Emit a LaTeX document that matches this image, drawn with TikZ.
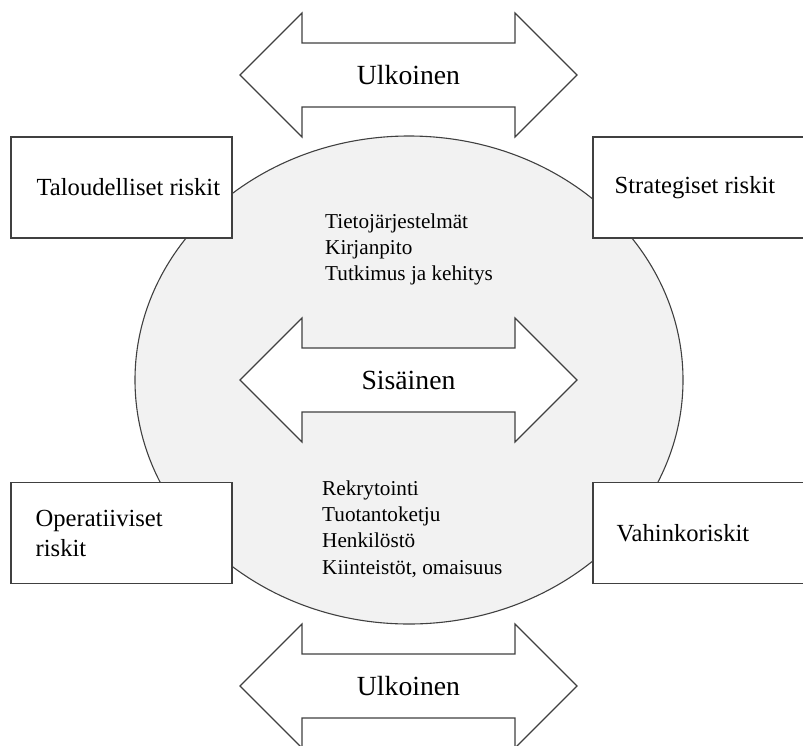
\documentclass[tikz,border=0pt]{standalone}
\usepackage{fontspec}
\setmainfont{Liberation Serif}
\newfontfamily\tms{Liberation Serif}
\usetikzlibrary{calc,shapes.geometric}
\definecolor{edge}{HTML}{404040}
\definecolor{core}{HTML}{F2F2F2}
\tikzset{
  outline/.style={draw=edge, line width=1.1pt},
  zone/.style={outline, fill=core},
  riskbox/.style={outline, fill=white, rectangle, minimum width=221pt, minimum height=101pt, inner sep=0pt},
  risktext/.style={anchor=west, align=left, inner sep=0pt, font=\tms\fontsize{24.6}{30}\selectfont},
  arrowbody/.style={outline, fill=white, line join=miter},
  arrowlabel/.style={inner sep=0pt, font=\tms\fontsize{27.7}{32}\selectfont},
  listtext/.style={anchor=west, align=left, inner sep=0pt, font=\tms\fontsize{21.2}{26.3}\selectfont}
}
\begin{document}
\begin{tikzpicture}[x=1pt, y=-1pt]
\useasboundingbox (0,0) rectangle (803,745);

% organisation core
\node[zone, ellipse, minimum width=548pt, minimum height=488pt, inner sep=0pt] (core) at (409,380) {};

% two-headed arrows: outside (top, bottom) and inside (middle)
\coordinate (topC) at (408.5,75);
\coordinate (midC) at (408.5,380);
\coordinate (botC) at (408.5,686);
\foreach \c in {topC, midC, botC}{
  \draw[arrowbody] ($(\c)+(-168.5,0)$) -- ++(62,-62) -- ++(0,30) -- ++(213,0) -- ++(0,-30)
    -- ++(62,62) -- ++(-62,62) -- ++(0,-30) -- ++(-213,0) -- ++(0,30) -- cycle;
}
\node[arrowlabel] (ulkoA) at (topC) {Ulkoinen};
\node[arrowlabel] (sisa) at (midC) {Sisäinen};
\node[arrowlabel] (ulkoB) at (botC) {Ulkoinen};

% internal risk areas
\node[listtext] (listTop) at (325,249.5) {Tietojärjestelmät\\Kirjanpito\\Tutkimus ja kehitys};
\node[listtext] (listBot) at (322,529) {Rekrytointi\\Tuotantoketju\\Henkilöstö\\Kiinteistöt, omaisuus};

% risk categories
\node[riskbox] (talous) at (121.5,187.5) {};
\node[riskbox] (strat) at (703.5,187.5) {};
\node[riskbox] (oper) at (121.5,533) {};
\node[riskbox] (vahinko) at (703.5,533) {};

\node[risktext] (talousT) at ([xshift=26pt]talous.west) {Taloudelliset riskit};
\node[risktext] (stratT) at ([xshift=22pt]strat.west) {Strategiset riskit};
\node[risktext] (operT) at ([xshift=25pt]oper.west) {Operatiiviset\\riskit};
\node[risktext] (vahinkoT) at ([xshift=24pt]vahinko.west) {Vahinkoriskit};
\end{tikzpicture}
\end{document}
